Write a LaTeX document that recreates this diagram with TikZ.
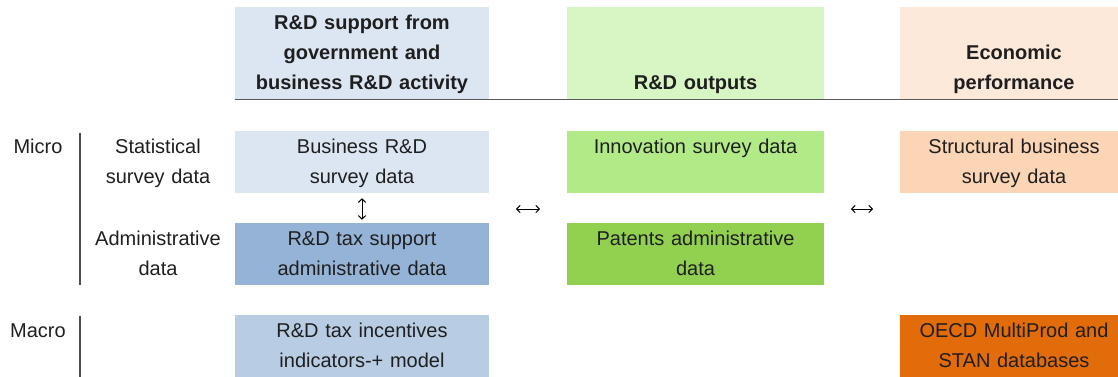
\documentclass[tikz,border=0pt]{standalone}
\usepackage{fontspec}
\setmainfont{Liberation Sans}
\usetikzlibrary{arrows.meta}
\definecolor{blueA}{HTML}{DCE6F2}
\definecolor{blueB}{HTML}{B8CCE4}
\definecolor{blueC}{HTML}{95B3D7}
\definecolor{greenA}{HTML}{D8F5C4}
\definecolor{greenB}{HTML}{B3EA88}
\definecolor{greenC}{HTML}{92D050}
\definecolor{peachA}{HTML}{FDE9D9}
\definecolor{peachB}{HTML}{FBD5B5}
\definecolor{orangeC}{HTML}{E26B0A}
\tikzset{
    cell/.style={inner sep=0pt, align=center, text width=140pt, text=black!88, font=\fontsize{15}{22.5}\selectfont, execute at begin node=\strut, execute at end node=\strut},
    hdr/.style={cell, font=\fontsize{15}{22.5}\selectfont\bfseries, minimum height=69pt},
    box/.style={cell, minimum height=46.5pt},
    colA/.style={minimum width=190.5pt, text width=188pt},
    colB/.style={minimum width=192.75pt, text width=190pt},
    colC/.style={minimum width=171pt, text width=168pt},
    sep/.style={draw=black!70, line width=1pt},
    dbl/.style={{Straight Barb[length=2.6pt, width=5.5pt]}-{Straight Barb[length=2.6pt, width=5.5pt]}, line width=0.75pt}
}
\begin{document}
\begin{tikzpicture}[x=0.75pt, y=-0.75pt]
        \useasboundingbox (0, 0) rectangle (1118, 376);
        \node[hdr, colA, fill=blueA] (hA) at (362, 53) {R\&D support from\\government and\\business R\&D activity};
        \node[hdr, colB, fill=greenA] (hB) at (695.5, 53) {~\\~\\R\&D outputs};
        \node[hdr, colC, fill=peachA] (hC) at (1014, 53) {~\\Economic\\performance};
        \draw[black!65, line width=1pt] (hA.south west) -- (hC.south east);
        \node[box, colA, fill=blueA] (bus) at (362, 162) {Business R\&D\\survey data};
        \node[box, colA, fill=blueC] (tax) at (362, 254) {R\&D tax support\\administrative data};
        \node[box, colA, fill=blueB] (ind) at (362, 346) {R\&D tax incentives\\indicators-+ model};
        \node[box, colB, fill=greenB] (inno) at (695.5, 162) {Innovation survey data\\~};
        \node[box, colB, fill=greenC] (pat) at (695.5, 254) {Patents administrative\\data};
        \node[box, colC, fill=peachB] (sbs) at (1014, 162) {Structural business\\survey data};
        \node[box, colC, fill=orangeC] (oecd) at (1014, 346) {OECD MultiProd and\\STAN databases};
        \node[cell] (micro) at (38, 162) {Micro\\~};
        \node[cell] (stat) at (158, 162) {Statistical\\survey data};
        \node[cell] (adm) at (158, 254) {Administrative\\data};
        \node[cell] (macro) at (38, 346) {Macro\\~};
        \draw[sep] (80, 133) -- (80, 285);
        \draw[sep] (80, 316) -- (80, 377);
        \draw[dbl, shorten <=3.75pt, shorten >=2.25pt] (bus) -- (tax);
        \coordinate (l1) at (516, 209);
        \coordinate (l2) at (540, 209);
        \coordinate (r1) at (851, 209);
        \coordinate (r2) at (873, 209);
        \draw[dbl] (l1) -- (l2);
        \draw[dbl] (r1) -- (r2);
    \end{tikzpicture}
\end{document}
